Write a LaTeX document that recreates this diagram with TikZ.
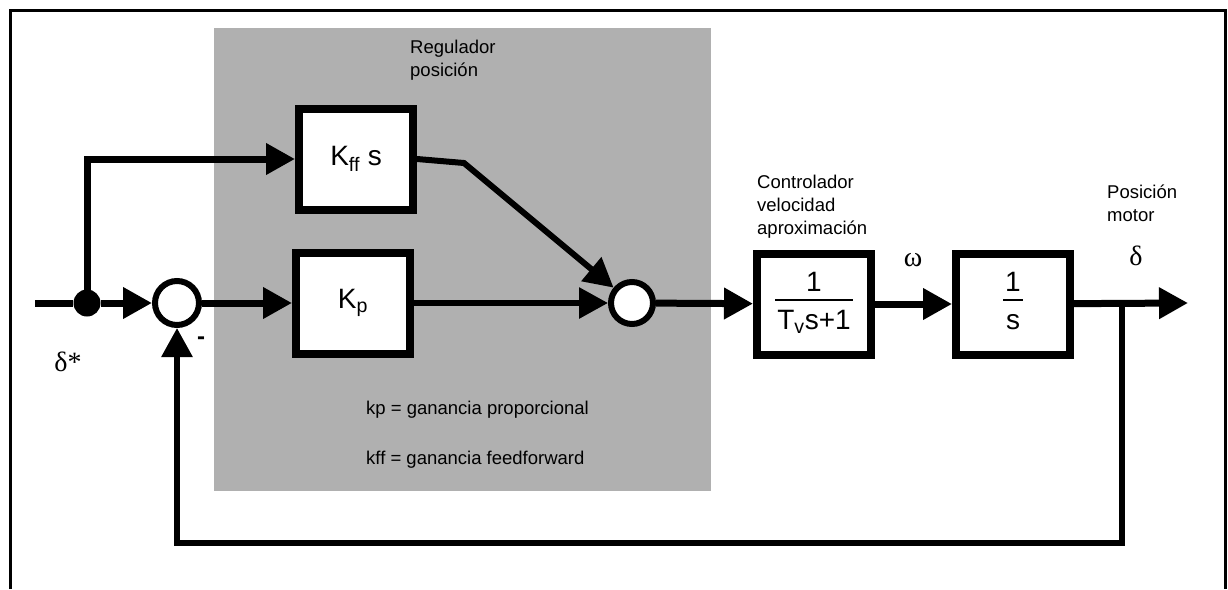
\documentclass[tikz,border=0pt]{standalone}
\usepackage{fontspec}
\setmainfont{Liberation Sans}
\newfontfamily\grkfont{Liberation Serif}
\usepackage{xcolor}
\usetikzlibrary{arrows.meta, positioning, calc}

\definecolor{regfill}{RGB}{176,176,176}

% fraction with a drawn bar, as in the block labels
\newcommand{\frc}[2]{{\setlength{\arrayrulewidth}{2.5pt}%
  \begin{tabular}{@{\hspace{2pt}}c@{\hspace{2pt}}}#1\\[-2pt]\hline\rule{0pt}{28pt}#2\end{tabular}}}

\begin{document}
\begin{tikzpicture}[x=1pt, y=-1pt,
  blk/.style={draw, line width=8pt, fill=white, minimum width=114pt,
    minimum height=101pt, inner sep=0pt, font=\fontsize{28}{32}\selectfont},
  sumc/.style={draw, circle, line width=6pt, fill=white, minimum size=44pt, inner sep=0pt},
  arr/.style={line width=7pt, -{Triangle[length=29pt, width=30pt]}},
  thinarr/.style={line width=6pt, -{Triangle[length=29pt, width=30pt]}},
  lbl/.style={font=\fontsize{18.5}{23}\selectfont, align=left, inner sep=0pt, anchor=north west},
  grk/.style={font=\grkfont\fontsize{28}{32}\selectfont, inner sep=0pt}]

\useasboundingbox (0,0) rectangle (1228,589);

% -- Frame and regulator area ----------------------------------------------
\fill[regfill] (214,28) rectangle (711,491);
\draw[line width=3pt] (10,589) -- (10,10) -- (1225,10) -- (1225,589);

% -- Blocks -----------------------------------------------------------------
\node[blk] (kff) at (356,159) {K\textsubscript{ff} s};
\node[blk] (kp) at (353,303) {K\textsubscript{p}};
\node[blk] (vel) at (814,304) {\frc{1}{T\textsubscript{v}s+1}};
\node[blk] (integ) at (1013,304) {\frc{1}{s}};

% -- Summing points ---------------------------------------------------------
\node[sumc] (s1) at (177,303) {};
\node[sumc, minimum size=42pt] (s2) at (632,303) {};
\node[circle, fill, minimum size=27pt, inner sep=0pt] (br) at (87,303) {};

\coordinate (in) at (35,303);
\coordinate (out) at (1188,303);
\coordinate (tap) at (1122,303);
\coordinate (fb) at (1122,543);
\coordinate (bend) at (464,163);

% -- Signal paths -----------------------------------------------------------
\draw[line width=7pt] (in) -- (br);
\draw[arr] (br) -- (s1);
\draw[arr] (br.center) |- (kff);
\draw[arr] (s1) -- (kp);
\draw[thinarr] (kff.east) -- (bend) -- (s2);
\draw[thinarr] (kp) -- (s2);
\draw[arr] (s2) -- (vel);
\draw[arr] (vel) -- (integ);
\draw[arr] (integ) -- (out);
\draw[thinarr] (tap) -- (fb) -| (s1);

% -- Labels -----------------------------------------------------------------
\node[lbl] (reglbl) at (410,40) {Regulador\\posición};
\node[lbl] (vellbl) at (757,175) {Controlador\\velocidad\\aproximación};
\node[lbl] (poslbl) at (1107,185) {Posición\\motor};
\node[lbl] (kplbl) at (366,401) {kp = ganancia proporcional};
\node[lbl] (kfflbl) at (366,451) {kff = ganancia feedforward};

\node[grk] (dref) at (68,362) {δ*};
\node[grk] (omg) at (913,260) {ω};
\node[grk] (dpos) at (1136,256) {δ};
\node[font=\fontsize{24}{26}\selectfont\bfseries, inner sep=0pt] (minus) at (201,341) {-};

\end{tikzpicture}
\end{document}
